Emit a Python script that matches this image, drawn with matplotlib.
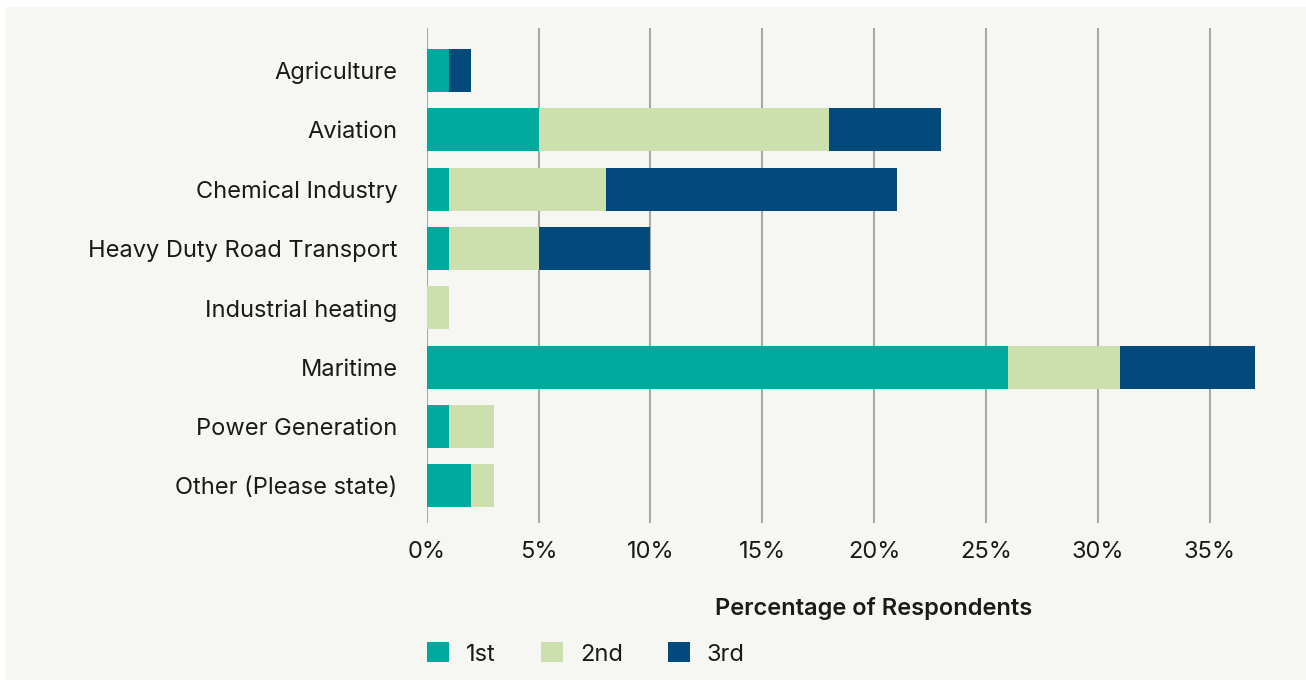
import matplotlib
matplotlib.use("Agg")
import matplotlib.pyplot as plt
from matplotlib.patches import Patch, Rectangle
from matplotlib.ticker import FuncFormatter
import numpy as np

plt.rcParams['font.family'] = ['Inter', 'DejaVu Sans']

sectors = ['Agriculture', 'Aviation', 'Chemical Industry', 'Heavy Duty Road Transport',
           'Industrial heating', 'Maritime', 'Power Generation', 'Other (Please state)']
first = [1, 5, 1, 1, 0, 26, 1, 2]
second = [0, 13, 7, 4, 1, 5, 2, 1]
third = [1, 5, 13, 5, 0, 6, 0, 0]
ranks = ['1st', '2nd', '3rd']
colors = ['#00a99d', '#cce0ae', '#024a7c']

bg = '#f6f7f3'
txt = '#1a1a1a'
fs = 17

fig = plt.figure(figsize=(13.06, 6.80), dpi=100, facecolor='white')
# light panel with a thin white margin on the top and left
fig.patches.append(Rectangle((5 / 1306, 0), 1 - 5 / 1306, 1 - 7 / 680,
                             transform=fig.transFigure, facecolor=bg,
                             edgecolor='none', zorder=-10))

ax = fig.add_axes([0.3267, 0.2304, 0.6511, 0.7284])
ax.set_facecolor('none')

y = np.arange(len(sectors))
left = np.zeros(len(sectors))
for vals, c in zip([first, second, third], colors):
    vals = np.array(vals, dtype=float)
    ax.barh(y, vals, left=left, height=0.725, color=c, zorder=3)
    left += vals

ax.set_xlim(0, 38)
ax.set_ylim(len(sectors) - 1 + 0.632, -0.717)
ax.set_xticks(np.arange(0, 40, 5))
ax.xaxis.set_major_formatter(FuncFormatter(lambda v, p: f'{v:.0f}%'))
ax.set_yticks(y)
ax.set_yticklabels(sectors)
ax.grid(axis='x', color='#a9a9a3', linewidth=1.5, zorder=1)
ax.tick_params(axis='y', length=0, pad=21, labelsize=fs, labelcolor=txt)
ax.tick_params(axis='x', length=0, pad=13, labelsize=fs, labelcolor=txt)
for s in ax.spines.values():
    s.set_visible(False)

fig.text(874 / 1306, 1 - 608 / 680, 'Percentage of Respondents', ha='center',
         va='center', fontsize=fs, fontweight='semibold', color=txt)

handles = [Patch(facecolor=c, edgecolor='none') for c in colors]
fig.legend(handles, ranks, loc='center left', bbox_to_anchor=(0.311, 1 - 654 / 680),
           ncol=3, frameon=False, fontsize=fs, handlelength=0.93, handleheight=0.93,
           handletextpad=0.72, columnspacing=1.9, labelcolor=txt)

fig.savefig('out.png', dpi=100, facecolor='white')
